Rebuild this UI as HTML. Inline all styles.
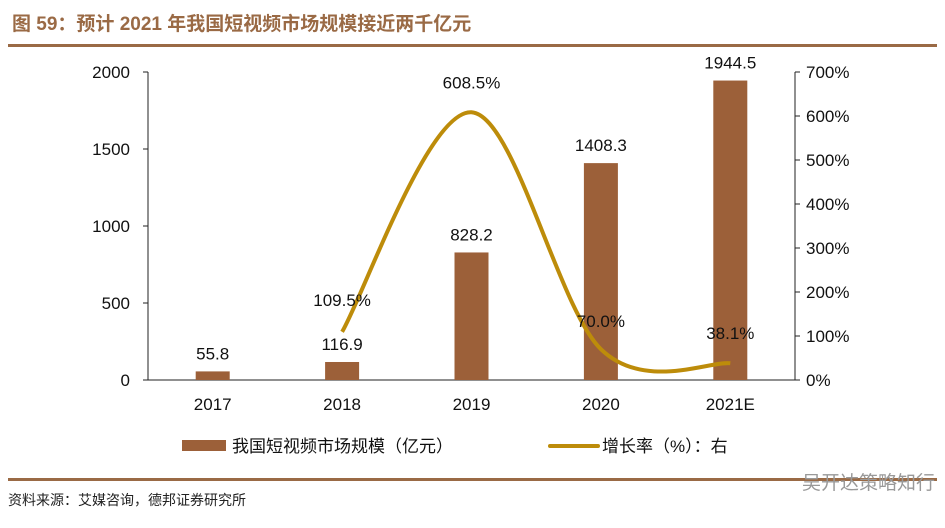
<!DOCTYPE html>
<html><head><meta charset="utf-8"><style>
body{margin:0;background:#fff;width:945px;height:523px;overflow:hidden}
svg text{font-family:"Liberation Sans","Noto Sans CJK SC",sans-serif}
</style></head><body>
<svg id="c" width="945" height="523">
<text x="12" y="30" font-size="19" font-weight="bold" fill="#9a6a45">图 59：预计 2021 年我国短视频市场规模接近两千亿元</text>
<rect x="8" y="44" width="929" height="3" fill="#9a6a45"/>
<rect x="8" y="478" width="929" height="3" fill="#9a6a45"/>
<text x="8" y="505" font-size="14" fill="#222">资料来源：艾媒咨询，德邦证券研究所</text>
<text x="935" y="489" font-size="19" fill="#999" text-anchor="end">吴开达策略知行</text>
<g id="plot"></g>
<rect x="182" y="440" width="44" height="11" fill="#9c6039"/>
<text x="232" y="452" font-size="17" fill="#111">我国短视频市场规模（亿元）</text>
<line x1="550" y1="446" x2="598" y2="446" stroke="#bd8c0a" stroke-width="4" stroke-linecap="round"/>
<text x="602" y="452" font-size="17" fill="#111">增长率（%）：右</text>
</svg>
<script>
const categories=["2017","2018","2019","2020","2021E"];
const sizeValues=[55.8,116.9,828.2,1408.3,1944.5];
const growthValues=[null,109.5,608.5,70.0,38.1];
const leftTicks=[0,500,1000,1500,2000];
const rightTicks=[0,100,200,300,400,500,600,700];
const NS="http://www.w3.org/2000/svg";
const g=document.getElementById('plot');
const X0=148,X1=795,Y0=380,Y1=72;
const step=(X1-X0)/categories.length;
const xs=i=>X0+step*(i+0.5);
const yl=v=>Y0-(v/2000)*(Y0-Y1);
const yr=v=>Y0-(v/700)*(Y0-Y1);
function mk(t,a,txt){const e=document.createElementNS(NS,t);for(const k in a)e.setAttribute(k,a[k]);if(txt!=null)e.textContent=txt;g.appendChild(e);return e;}
let e;
e=mk('line',{x1:X0,y1:Y1,x2:X0,y2:Y0,stroke:'#222'});


e=mk('line',{x1:X1,y1:Y1,x2:X1,y2:Y0,stroke:'#222'});


e=mk('line',{x1:X0,y1:Y0,x2:X1,y2:Y0,stroke:'#222'});


leftTicks.forEach(v=>{
 mk('line',{x1:X0-5,y1:yl(v),x2:X0,y2:yl(v),stroke:'#222'});
 e=mk('text',{x:130,y:yl(v)+6,'font-size':17,'text-anchor':'end',fill:'#111'},String(v));
 
 
});
rightTicks.forEach(v=>{
 mk('line',{x1:X1,y1:yr(v),x2:X1+5,y2:yr(v),stroke:'#222'});
 e=mk('text',{x:806,y:yr(v)+6,'font-size':17,fill:'#111'},v+'%');
 
 
});
categories.forEach((c,i)=>{
 e=mk('text',{x:xs(i),y:410,'font-size':17,'text-anchor':'middle',fill:'#111'},c);
 
 
 const v=sizeValues[i];
 e=mk('rect',{x:xs(i)-17,y:yl(v),width:34,height:Y0-yl(v),fill:'#9c6039'});
 
 
 e=mk('text',{x:xs(i),y:yl(v)-12,'font-size':17,'text-anchor':'middle',fill:'#111'},v.toFixed(1));
 
 
});
const pts=[];growthValues.forEach((v,i)=>{if(v!=null)pts.push([xs(i),yr(v)]);});
let d='M'+pts[0][0]+','+pts[0][1];
for(let i=0;i<pts.length-1;i++){
 const p0=pts[i-1]||pts[i],p1=pts[i],p2=pts[i+1],p3=pts[i+2]||p2,t=1/6;
 d+=` C${p1[0]+(p2[0]-p0[0])*t},${p1[1]+(p2[1]-p0[1])*t} ${p2[0]-(p3[0]-p1[0])*t},${p2[1]-(p3[1]-p1[1])*t} ${p2[0]},${p2[1]}`;
}
e=mk('path',{d:d,fill:'none',stroke:'#bd8c0a','stroke-width':4});


const off=[0,-32,-30,-28,-30];
growthValues.forEach((v,i)=>{if(v==null)return;
 e=mk('text',{x:xs(i),y:yr(v)+off[i]+6,'font-size':17,'text-anchor':'middle',fill:'#111'},v.toFixed(1)+'%');
 
 
});
</script>
</body></html>
